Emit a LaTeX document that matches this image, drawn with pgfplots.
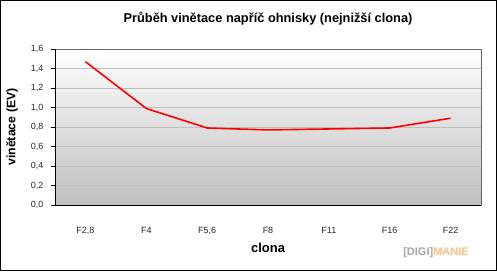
\documentclass[border=0pt]{standalone}
\usepackage{pgfplots}
\pgfplotsset{compat=1.18}
\usepackage{fontspec}
\setmainfont{Liberation Sans}
\begin{document}
\begin{tikzpicture}
\begin{axis}[
  name=ax,
  scale only axis, width=426pt, height=156pt,
  xmin=-0.5, xmax=6.5, ymin=0, ymax=1.6,
  xtick={0,...,6},
  xticklabels={{F2,8},{F4},{F5,6},{F8},{F11},{F16},{F22}},
  minor xtick={-0.5,0.5,...,6.5},
  ytick={0,0.2,...,1.6},
  ytick pos=left, xtick pos=bottom,
  /pgf/number format/assume math mode=true,
  yticklabel style={anchor=east, xshift=-4pt, /pgf/number format/fixed, /pgf/number format/fixed zerofill, /pgf/number format/precision=1, /pgf/number format/use comma},
  ticklabel style={font=\fontsize{9}{10}\selectfont, text=black!85},
  major tick length=4pt, minor tick length=4pt,
  tick align=outside,
  xtick style={draw=none},
  minor tick style={black, line width=0.6pt},
  ytick style={black, line width=0.6pt},
  xticklabel style={anchor=base, yshift=-24pt},
  ymajorgrids, grid style={gray!50, line width=0.6pt},
  axis line style={black!60, line width=0.6pt},
  axis background/.style={top color=white, bottom color=black!25},
  title={\bfseries Průběh vinětace napříč ohnisky (nejnižší clona)},
  title style={font=\fontsize{12.8}{14}\selectfont, at={(axis description cs:0.5,1)}, anchor=center, yshift=24pt},
  xlabel={\bfseries clona},
  xlabel style={font=\fontsize{13}{15}\selectfont, at={(axis description cs:0.5,0)}, anchor=center, yshift=-43pt},
  ylabel={\bfseries vinětace (EV)},
  ylabel style={font=\fontsize{12.3}{14}\selectfont, at={(axis description cs:-0.101,0.5)}, anchor=center},
  clip=false,
]
\addplot[red, line width=1.6pt, mark=none] coordinates {
(0,1.47) (1,0.99) (2,0.79) (3,0.77) (4,0.78) (5,0.79) (6,0.89)};
\draw[black, line width=0.7pt] (axis cs:-0.5,1.6) -- (axis cs:-0.5,0) -- (axis cs:6.5,0);
\end{axis}
\draw[black, line width=0.8pt] ([shift={(-54.5pt,-65.5pt)}]ax.south west) rectangle ([shift={(441.5pt,204.5pt)}]ax.south west);
\node[anchor=center, font=\fontsize{11}{12}\selectfont\bfseries] at ([shift={(381pt,-48pt)}]ax.south west) {\textcolor{black!35}{[DIGI]}\textcolor{orange!50}{MANIE}};
\pgfresetboundingbox
\path[use as bounding box] ([shift={(-55pt,-66pt)}]ax.south west) rectangle ([shift={(442pt,205pt)}]ax.south west);
\end{tikzpicture}
\end{document}
